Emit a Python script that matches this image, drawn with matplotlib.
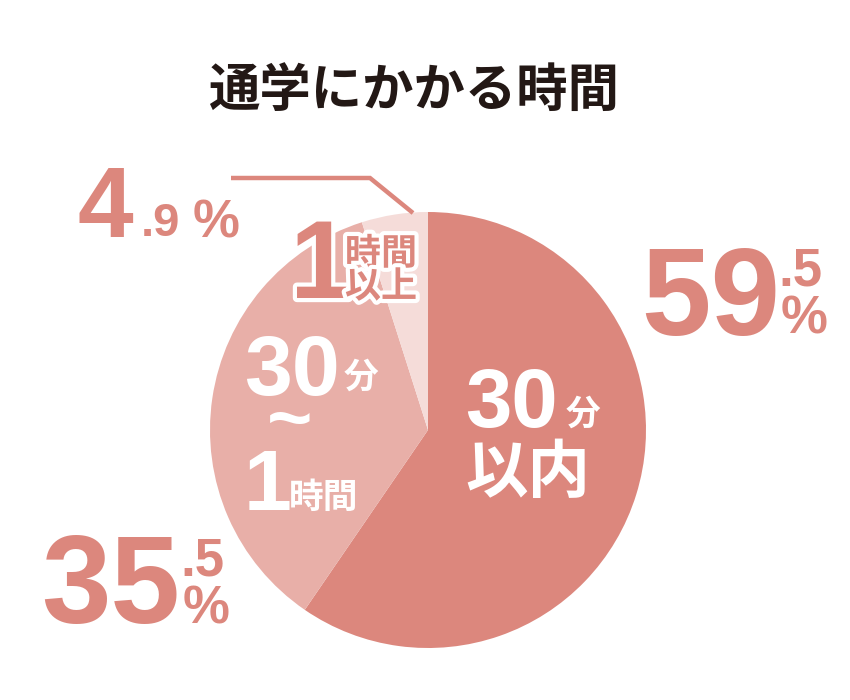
import matplotlib
matplotlib.use("Agg")
import matplotlib.pyplot as plt
import matplotlib.patheffects as pe

# share of students by commute time
labels = ["30分以内", "30分〜1時間", "1時間以上"]
shares = [59.5, 35.5, 4.9]
colors = ["#DC877D", "#E8AFA8", "#F5DCD9"]
title = "通学にかかる時間"

NUM = ["Liberation Sans", "Noto Sans CJK JP"]
JP = ["Noto Sans CJK JP", "DejaVu Sans"]
pink = "#DC877D"
white = "white"

fig = plt.figure(figsize=(8.5, 7), dpi=100)

# pie in its own square axes (center 428,430 px, radius 218 px)
pa = fig.add_axes([210 / 850, 52 / 700, 436 / 850, 436 / 700])
pa.pie(shares, colors=colors, startangle=90, counterclock=False,
       radius=1, wedgeprops=dict(linewidth=0))
pa.set_xlim(-1, 1)
pa.set_ylim(-1, 1)
pa.axis("off")

# overlay in pixel coordinates for the texts
ax = fig.add_axes([0, 0, 1, 1])
ax.set_xlim(0, 850)
ax.set_ylim(700, 0)
ax.axis("off")

ax.text(414, 90, title, family=JP, weight="bold", fontsize=37,
        color="#231815", ha="center", va="center")


def pct(x, y, value, big, x_frac, y_frac, y_sign, small=38):
    whole, frac = f"{value:.1f}".split(".")
    ax.text(x, y, whole, family=NUM, weight="bold", fontsize=big,
            color=pink, ha="left", va="baseline")
    ax.text(x_frac, y_frac, "." + frac, family=NUM, weight="bold",
            fontsize=small, color=pink, ha="left", va="baseline")
    ax.text(x_frac + 3, y_sign, "%", family=NUM, weight="bold",
            fontsize=small, color=pink, ha="left", va="baseline")


pct(641, 335, shares[0], 90, 778, 285, 334)
pct(41, 623, shares[1], 90, 180, 575, 624)

# 4.9 % sits on one line
w, f = f"{shares[2]:.1f}".split(".")
ax.text(78, 237, w, family=NUM, weight="bold", fontsize=72, color=pink,
        ha="left", va="baseline")
ax.text(141, 236, "." + f, family=NUM, weight="bold", fontsize=34,
        color=pink, ha="left", va="baseline")
ax.text(193, 237, "%", family=NUM, weight="bold", fontsize=38,
        color=pink, ha="left", va="baseline")

# leader line to the small slice
ax.plot([231, 370, 413], [178, 178, 213], color=pink, lw=3.2,
        solid_capstyle="butt", solid_joinstyle="miter")

# labels inside the slices
ax.text(465, 427, "30", family=NUM, weight="bold", fontsize=60,
        color=white, ha="left", va="baseline")
ax.text(583, 414, "分", family=JP, weight="bold", fontsize=25,
        color=white, ha="center", va="center")
ax.text(528, 473, "以内", family=JP, weight="bold", fontsize=45,
        color=white, ha="center", va="center")

ax.text(244, 395, "30", family=NUM, weight="bold", fontsize=62,
        color=white, ha="left", va="baseline")
ax.text(361, 377, "分", family=JP, weight="bold", fontsize=25,
        color=white, ha="center", va="center")
ax.text(290, 424, "~", family=NUM, weight="bold", fontsize=56,
        color=white, ha="center", va="center")
ax.text(244, 510, "1", family=NUM, weight="bold", fontsize=62,
        color=white, ha="left", va="baseline")
ax.text(324, 497, "時間", family=JP, weight="bold", fontsize=25,
        color=white, ha="center", va="center")

halo = [pe.withStroke(linewidth=6, foreground="white")]
ax.text(290, 298, "1", family=NUM, weight="bold", fontsize=80,
        color=pink, ha="left", va="baseline", path_effects=halo)
ax.text(381, 254, "時間", family=JP, weight="bold", fontsize=26,
        color=pink, ha="center", va="center", path_effects=halo)
ax.text(381, 287, "以上", family=JP, weight="bold", fontsize=26,
        color=pink, ha="center", va="center", path_effects=halo)

fig.savefig("out.png", dpi=100, facecolor="white")
